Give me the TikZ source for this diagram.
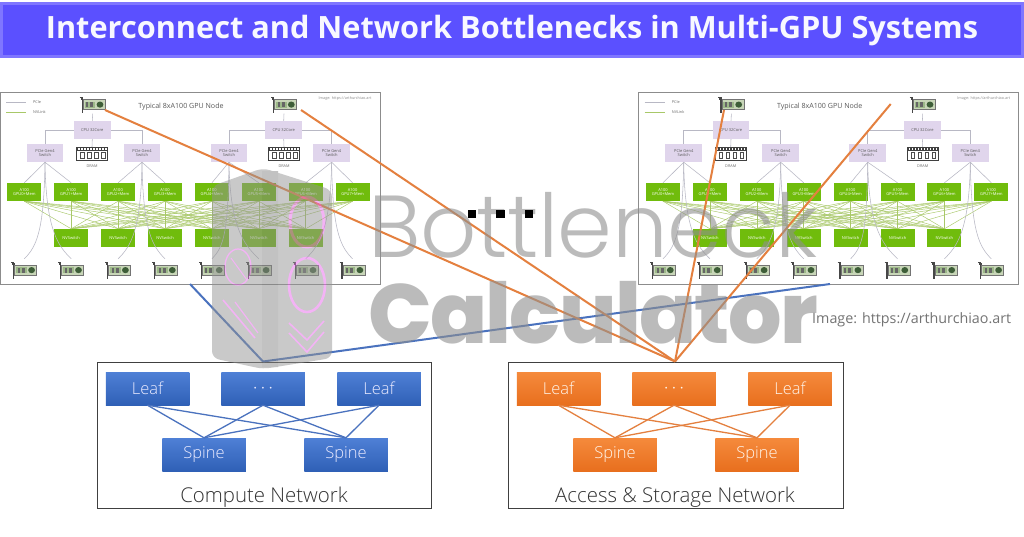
\documentclass[tikz,border=0pt]{standalone}
\usepackage{fontspec}
\setmainfont{Open Sans}
\newfontfamily\netfont{Open Sans Light}
\newfontfamily\wmlight[LetterSpace=-.5]{Poppins Light}
\newfontfamily\wmbold[LetterSpace=-2]{Poppins ExtraBold}
\usetikzlibrary{shadows}
\definecolor{titlefill}{HTML}{5B50FF}
\definecolor{titleedge}{HTML}{7F76FF}
\definecolor{gpugreen}{HTML}{70BC0C}
\definecolor{meshgreen}{HTML}{A8C868}
\definecolor{pciegrey}{HTML}{B8B8C4}
\definecolor{lilac}{HTML}{E0D5EC}
\definecolor{linkblue}{HTML}{4A72BE}
\definecolor{linkorange}{HTML}{E4803F}
\definecolor{boxbluetop}{HTML}{4F80D6}
\definecolor{boxbluebot}{HTML}{2F60B6}
\definecolor{boxorangetop}{HTML}{F58A3C}
\definecolor{boxorangebot}{HTML}{E86F1E}
\definecolor{wmgrey}{HTML}{8F8F8F}
\definecolor{towerpink}{HTML}{E868EC}
\definecolor{nicboard}{HTML}{C8D6B8}
\definecolor{nicchip}{HTML}{9CB888}
\definecolor{nicdark}{HTML}{3E5E38}
\tikzset{
  x=1pt,y=-1pt,
  gpubox/.style={fill=gpugreen,minimum width=34pt,minimum height=18pt,inner sep=0pt,text=white,font=\fontsize{4}{4.8}\selectfont,align=center},
  swbox/.style={fill=lilac,minimum width=36.5pt,minimum height=18pt,inner sep=0pt,text=black!65,font=\fontsize{4}{4.8}\selectfont,align=center},
  nicbox/.style={minimum width=25pt,minimum height=17pt,inner sep=0pt},
  drambox/.style={minimum width=32pt,minimum height=14pt,inner sep=0pt},
  tiny text/.style={inner sep=0pt,text=black!60,font=\fontsize{3.8}{4.6}\selectfont},
  pcie/.style={draw=pciegrey,line width=.55pt},
  nvlink/.style={draw=meshgreen,line width=.45pt},
  framebox/.style={draw=black!75,line width=1pt},
  leafblue/.style={top color=boxbluetop,bottom color=boxbluebot,drop shadow={shadow xshift=.6pt,shadow yshift=-.8pt,opacity=.3},minimum width=83.5pt,minimum height=33pt,inner sep=0pt,text=white!92!blue,font=\fontsize{16.5}{19}\selectfont\netfont},
  leaforange/.style={top color=boxorangetop,bottom color=boxorangebot,drop shadow={shadow xshift=.6pt,shadow yshift=-.8pt,opacity=.3},minimum width=83.5pt,minimum height=33pt,inner sep=0pt,text=white!92!orange,font=\fontsize{16.5}{19}\selectfont\netfont},
  neta/.style={draw=linkblue,line width=1.3pt},
  netb/.style={draw=linkorange,line width=1.3pt},
  uplinkblue/.style={draw=linkblue,line width=2pt},
  uplinkorange/.style={draw=linkorange,line width=2pt},
  dotsq/.style={fill=black,minimum size=8.5pt,inner sep=0pt},
  nettitle/.style={inner sep=0pt,text=black!80,font=\fontsize{20.4}{24}\selectfont\netfont},
  nicpic/.pic={
    \draw[black!72,line width=1.3pt] (-13,-7.8) -- (-10.5,-7.8) -- (-10.5,8);
    \fill[black!72] (-12,-7.8) rectangle (-9.8,-5.5);
    \fill[nicboard,draw=black!55,line width=.8pt] (-9.5,-5.2) rectangle (12.5,4.6);
    \fill[nicchip] (-8,-3.4) rectangle (2.5,2.8);
    \fill[black!60] (-6.5,-2.6) rectangle (-4.5,2);
    \fill[black!60] (-2.5,-2.6) rectangle (.5,2);
    \fill[nicdark] (7.3,-.4) ellipse (3.4 and 3.1);
  },
  drampic/.pic={
    \fill[black!75] (-16,-7) rectangle (16,7);
    \fill[white] (-15,-3) rectangle (15,6);
    \foreach \tx in {-14,-11,...,13} {\fill[white] (\tx,-6) rectangle (\tx+1.6,-4);}
    \foreach \tx in {-12,-5,2,9} {\fill[black!70] (\tx,-2) rectangle (\tx+4.6,4.5); \fill[white] (\tx+.9,-1.1) rectangle (\tx+3.7,3.6);}
  },
}
% one GPU server block; #1 name prefix, #2 x offset
\newcommand{\gpuserver}[2]{%
  \begin{scope}[xshift=#2pt]
    \node[draw=black!45,fill=white,line width=.9pt,minimum width=380pt,minimum height=192pt,inner sep=0pt] (#1frame) at (190,188) {};
    % GPUs, NVSwitches, NICs
    \foreach \i in {0,...,7} {
      \pgfmathsetmacro{\cx}{24.3+46.9*\i}
      \node[gpubox] (#1gpu\i) at (\cx,192) {A100\\GPU\i+Mem};
      \node[nicbox] (#1nb\i) at (\cx,270.5) {};
      \pic at (#1nb\i) {nicpic};
    }
    \foreach \i in {1,...,6} {
      \pgfmathsetmacro{\cx}{24.3+46.9*\i}
      \node[gpubox] (#1nv\i) at (\cx,238) {NVSwitch};
    }
    % NVLink mesh
    \foreach \i in {0,...,7} { \foreach \j in {1,...,6} {
      \draw[nvlink] (#1gpu\i.south) -- (#1nv\j.north);
    }}
    % CPU, PCIe switches, DRAM, top NICs
    \node[nicbox] (#1nt1) at (92.7,105) {};
    \node[nicbox] (#1nt2) at (284,105) {};
    \pic at (#1nt1) {nicpic};
    \pic at (#1nt2) {nicpic};
    \node[swbox] (#1cpu1) at (92.3,130) {CPU 32Core};
    \node[swbox] (#1cpu2) at (283.7,130) {CPU 32Core};
    \node[swbox] (#1sw1) at (45,153) {PCIe Gen4\\Switch};
    \node[swbox] (#1sw2) at (142,153) {PCIe Gen4\\Switch};
    \node[swbox] (#1sw3) at (229,153) {PCIe Gen4\\Switch};
    \node[swbox] (#1sw4) at (331.6,153) {PCIe Gen4\\Switch};
    \node[drambox] (#1dr1) at (92,154) {};
    \node[drambox] (#1dr2) at (284,154) {};
    \pic at (#1dr1) {drampic};
    \pic at (#1dr2) {drampic};
    \node[tiny text] (#1drl1) at (92,166) {DRAM};
    \node[tiny text] (#1drl2) at (284,166) {DRAM};
    % PCIe links
    \draw[pcie] (#1nt1.south) -- (#1cpu1.north);
    \draw[pcie] (#1nt2.south) -- (#1cpu2.north);
    \draw[pcie] (#1cpu1.south) -- (#1dr1.north);
    \draw[pcie] (#1cpu2.south) -- (#1dr2.north);
    \draw[pcie] (#1cpu1.west) -| (#1sw1.north);
    \draw[pcie] (#1cpu1.east) -| (#1sw2.north);
    \draw[pcie] (#1cpu2.west) -| (#1sw3.north);
    \draw[pcie] (#1cpu2.east) -| (#1sw4.north);
    \foreach \s/\a/\b in {1/0/1,2/2/3,3/4/5,4/6/7} {
      \draw[pcie] (#1sw\s.south) -- (#1gpu\a.north);
      \draw[pcie] (#1sw\s.south) -- (#1gpu\b.north);
      \draw[pcie] (#1sw\s.south) .. controls +(-1,70) and +(12,-12) .. ([yshift=3pt]#1nb\a.north);
      \draw[pcie] (#1sw\s.south) .. controls +(1,70) and +(-12,-12) .. ([yshift=3pt]#1nb\b.north);
    }
    % legend and captions
    \coordinate (#1la) at (6,102); \coordinate (#1lb) at (26,102);
    \coordinate (#1lc) at (6,112); \coordinate (#1ld) at (26,112);
    \draw[pcie] (#1la) -- (#1lb);
    \draw[nvlink,line width=.7pt] (#1lc) -- (#1ld);
    \node[tiny text,anchor=west] (#1lt1) at (33,102) {PCIe};
    \node[tiny text,anchor=west] (#1lt2) at (33,112) {NVLink};
    \node[inner sep=0pt,text=black!65,font=\fontsize{7.1}{8.5}\selectfont] (#1title) at (181,107) {Typical 8xA100 GPU Node};
    \node[inner sep=0pt,text=black!45,font=\fontsize{3.8}{4.6}\selectfont] (#1img) at (345,99) {Image: https://arthurchiao.art};
  \end{scope}%
}
\begin{document}
\begin{tikzpicture}
\useasboundingbox (0,0) rectangle (1024,536);
\fill[white] (0,0) rectangle (1024,536);
% title bar
\node[fill=titlefill,draw=titleedge,line width=3.4pt,minimum width=1021pt,minimum height=53pt,inner sep=0pt] (banner) at (512,30) {};
\node[inner sep=0pt,text=white!96!titlefill,font=\fontsize{30.7}{36}\selectfont\bfseries] (bannertext) at (512,31) {Interconnect and Network Bottlenecks in Multi-GPU Systems};
% GPU servers
\gpuserver{a}{0}
\gpuserver{b}{638.7}
% networks
\node[framebox,minimum width=334pt,minimum height=146pt,inner sep=0pt] (cbox) at (264,435) {};
\node[framebox,minimum width=335pt,minimum height=146pt,inner sep=0pt] (sbox) at (675.5,435) {};
\node[leafblue] (c1) at (147.5,388.5) {Leaf};
\node[leafblue] (c2) at (263,388.5) {$\cdots$};
\node[leafblue] (c3) at (379,388.5) {Leaf};
\node[leafblue] (c4) at (204,454.5) {Spine};
\node[leafblue] (c5) at (346,454.5) {Spine};
\node[leaforange] (s1) at (558.5,388.5) {Leaf};
\node[leaforange] (s2) at (674,388.5) {$\cdots$};
\node[leaforange] (s3) at (790,388.5) {Leaf};
\node[leaforange] (s4) at (615,454.5) {Spine};
\node[leaforange] (s5) at (757,454.5) {Spine};
\foreach \a in {1,2,3} { \foreach \b in {4,5} {
  \draw[neta] (c\a.south) -- (c\b.north);
  \draw[netb] (s\a.south) -- (s\b.north);
}}
\node[nettitle] (cname) at (264,497.5) {Compute Network};
\node[nettitle] (sname) at (675,497.5) {Access \& Storage Network};
% uplinks
\coordinate (bhub) at (263,361.5);
\coordinate (ohub) at (675,361.5);
\coordinate (bl) at (190,284);
\coordinate (br) at (830,284);
\coordinate (ol1) at (105,110);
\coordinate (ol2) at (301,110);
\coordinate (ol3) at (724,110);
\coordinate (ol4) at (890.7,104);
\draw[uplinkblue] (bhub) -- (bl);
\draw[uplinkblue] (bhub) -- (br);
\draw[uplinkorange] (ohub) -- (ol1);
\draw[uplinkorange] (ohub) -- (ol2);
\draw[uplinkorange] (ohub) -- (ol3);
\draw[uplinkorange] (ohub) -- (ol4);
% translucent tower watermark
\begin{scope}[transparency group,opacity=.5]
  \fill[black!42,rounded corners=7pt] (212,186) -- (263,168) -- (332,190) -- (332,358) -- (263,369) -- (212,358) -- cycle;
  \fill[black!47] (262,171) rectangle (278,367);
  \draw[towerpink,line width=1.3pt] (238,267) ellipse (13 and 18);
  \draw[towerpink,line width=1pt] (231,258) -- (247,280);
  \draw[towerpink,line width=3pt] (307,222) ellipse (17 and 25);
  \draw[towerpink,line width=2.6pt] (307,285) ellipse (18 and 27);
  \draw[towerpink,line width=1.6pt] (223,300) -- (255,338);
  \draw[towerpink,line width=1.2pt] (235,302) -- (258,333);
  \draw[towerpink,line width=1.6pt] (289,323) -- (307,340) -- (324,321);
  \draw[towerpink,line width=1.6pt] (289,333) -- (307,352) -- (324,332);
\end{scope}
% text watermark
\node[inner sep=0pt,anchor=base west,text=wmgrey,opacity=.6,font=\fontsize{88}{100}\selectfont\wmlight] (wm1) at (368,257) {Bottleneck};
\node[inner sep=0pt,anchor=base west,text=wmgrey,opacity=.6,font=\fontsize{84}{100}\selectfont\wmbold] (wm2) at (368,343) {Calculator};
\node[inner sep=0pt,anchor=west,text=black!55,font=\fontsize{14.3}{17}\selectfont] (imgcredit) at (812,320) {Image: https://arthurchiao.art};
% ellipsis squares
\node[dotsq] (d1) at (472,214) {};
\node[dotsq] (d2) at (500.7,214) {};
\node[dotsq] (d3) at (529,214) {};
\end{tikzpicture}
\end{document}
